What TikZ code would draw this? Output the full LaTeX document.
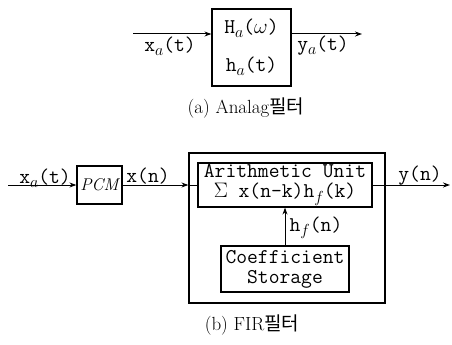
\documentclass[tikz,border=0pt]{standalone}
\usepackage{fix-cm}
\usepackage{fontspec}
\newfontfamily\krfont{Noto Sans CJK KR}
\usetikzlibrary{arrows.meta}
\newcommand\sbs[1]{\raisebox{-0.45ex}{\fontsize{16}{16}\selectfont$#1$}}
\begin{document}
\begin{tikzpicture}[x=1pt,y=-1pt,
  box/.style={draw, line width=1.2pt, inner sep=0pt},
  conn/.style={line width=1pt},
  arr/.style={conn,-{Stealth[length=7pt,width=5pt]}},
  lbl/.style={font=\fontsize{21}{23}\selectfont\ttfamily, inner sep=0pt},
  boxtxt/.style={box, align=center, font=\fontsize{21}{20}\selectfont\ttfamily},
  captxt/.style={font=\fontsize{19}{22}\selectfont, inner sep=0pt}]
\useasboundingbox (0,0) rectangle (452,345);
% (a) analog filter
\node[boxtxt, minimum width=79pt, minimum height=77pt, font=\fontsize{21}{38}\selectfont\ttfamily] (abox) at (251.5,47.5) {H\sbs{a}($\omega$)\\h\sbs{a}(t)};
\coordinate (ain) at (133,34);
\coordinate (aout) at (362,34);
\draw[arr] (ain) -- (ain -| abox.west);
\draw[arr] (ain -| abox.east) -- (aout);
\node[lbl] (xa) at (170,46) {x\sbs{a}(t)};
\node[lbl] (ya) at (323,46) {y\sbs{a}(t)};
\node[captxt] (capa) at (246,108) {(a) Analag{\krfont 필터}};
% (b) FIR filter
\node[box, minimum width=45pt, minimum height=38pt, font=\fontsize{17}{19}\selectfont\itshape] (pcm) at (99.5,185) {PCM};
\node[box, minimum width=196pt, minimum height=150pt] (outer) at (287,228) {};
\node[boxtxt, minimum width=174pt, minimum height=44pt] (arith) at (285,185) {Arithmetic Unit\\$\Sigma$ x(n-k)h\sbs{f}(k)};
\node[boxtxt, minimum width=128pt, minimum height=46pt] (coef) at (285,269) {Coefficient\\Storage};
\coordinate (bin) at (8,185);
\coordinate (bout) at (450,185);
\draw[arr] (bin) -- (pcm.west);
\draw[arr] (pcm.east) -- (pcm.east -| outer.west);
\draw[conn] (pcm.east -| outer.west) -- (pcm.east -| arith.west);
\draw[arr] (arith.east) -- (bout);
\draw[arr] (coef.north) -- (arith.south);
\node[lbl] (xb) at (45,178) {x\sbs{a}(t)};
\node[lbl] (xn) at (148,176) {x(n)};
\node[lbl] (yn) at (420,176) {y(n)};
\node[lbl] (hf) at (316,228) {h\sbs{f}(n)};
\node[captxt] (capb) at (252,325) {(b) FIR{\krfont 필터}};
\end{tikzpicture}
\end{document}
